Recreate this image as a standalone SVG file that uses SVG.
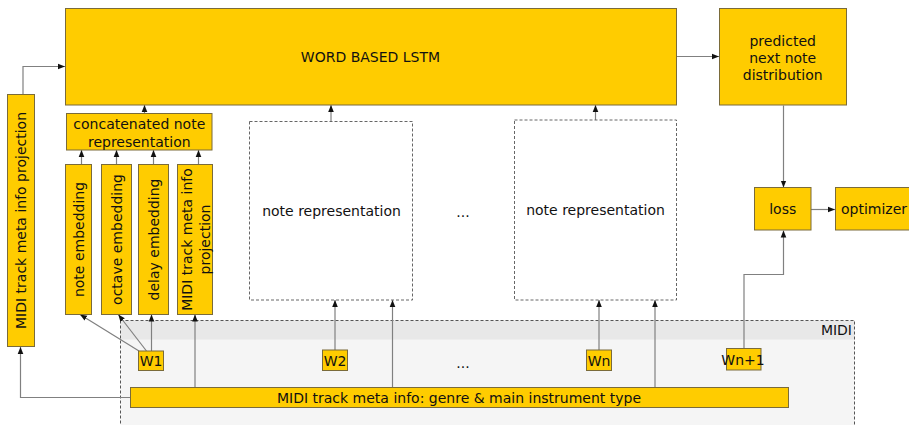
<svg xmlns="http://www.w3.org/2000/svg" width="909" height="425" viewBox="0 0 909 425">
<defs>
<style>
.box{fill:#ffcc00;stroke:#7a6b3a;stroke-width:1}
.dash{fill:#ffffff;stroke:#666666;stroke-width:1;stroke-dasharray:3,2}
.t{font-family:"DejaVu Sans",sans-serif;font-size:14px;fill:#111111;text-anchor:middle;dominant-baseline:central}
.ln{fill:none;stroke:#808080;stroke-width:1.2}
</style>
<marker id="ar" viewBox="0 0 8 8" refX="8" refY="4" markerWidth="7" markerHeight="7" markerUnits="userSpaceOnUse" orient="auto">
<path d="M0,0.8 L8,4 L0,7.2 Z" fill="#111111"/>
</marker>
</defs>
<rect width="909" height="425" fill="#ffffff"/>

<g id="midi-container">
<rect x="120.5" y="320.5" width="734" height="110" fill="#f5f5f5" stroke="none"/>
<rect x="120.5" y="320.5" width="734" height="19" fill="#e8e8e8" stroke="none"/>
<rect x="120.5" y="320.5" width="734" height="110" fill="none" stroke="#555555" stroke-dasharray="3,2"/>
<text class="t" x="852" y="330" style="text-anchor:end">MIDI</text>
</g>

<g id="connectors">
<polyline class="ln" points="23,94 23,66.5 65,66.5" marker-end="url(#ar)"/>
<line class="ln" x1="144.5" y1="113.5" x2="144.5" y2="105" marker-end="url(#ar)"/>
<line class="ln" x1="81.5" y1="164" x2="81.5" y2="150" marker-end="url(#ar)"/>
<line class="ln" x1="116.5" y1="164" x2="116.5" y2="150" marker-end="url(#ar)"/>
<line class="ln" x1="153.5" y1="164" x2="153.5" y2="150" marker-end="url(#ar)"/>
<line class="ln" x1="198.5" y1="164" x2="198.5" y2="150" marker-end="url(#ar)"/>
<line class="ln" x1="139" y1="351" x2="80" y2="314.5" marker-end="url(#ar)"/>
<line class="ln" x1="146.5" y1="351" x2="118.3" y2="314.5" marker-end="url(#ar)"/>
<line class="ln" x1="151.5" y1="351" x2="151.5" y2="314.5" marker-end="url(#ar)"/>
<line class="ln" x1="195" y1="387.5" x2="195" y2="314.5" marker-end="url(#ar)"/>
<polyline class="ln" points="130,397.5 20.5,397.5 20.5,347" marker-end="url(#ar)"/>
<line class="ln" x1="335" y1="350" x2="335" y2="300" marker-end="url(#ar)"/>
<line class="ln" x1="392.5" y1="387.5" x2="392.5" y2="300" marker-end="url(#ar)"/>
<line class="ln" x1="599" y1="350" x2="599" y2="300" marker-end="url(#ar)"/>
<line class="ln" x1="655" y1="387.5" x2="655" y2="300" marker-end="url(#ar)"/>
<polyline class="ln" points="744,348.5 744,274.5 783.5,274.5 783.5,230.5" marker-end="url(#ar)"/>
<line class="ln" x1="331" y1="121.5" x2="331" y2="105" marker-end="url(#ar)"/>
<line class="ln" x1="595.5" y1="120" x2="595.5" y2="105" marker-end="url(#ar)"/>
<line class="ln" x1="677" y1="56.5" x2="719" y2="56.5" marker-end="url(#ar)"/>
<line class="ln" x1="783.5" y1="105.5" x2="783.5" y2="187.5" marker-end="url(#ar)"/>
<line class="ln" x1="811" y1="209.5" x2="835" y2="209.5" marker-end="url(#ar)"/>
</g>

<g id="lstm">
<rect class="box" x="65.5" y="8.5" width="611" height="96.5"/>
<text class="t" x="370.5" y="57">WORD BASED LSTM</text>
</g>

<g id="predicted">
<rect class="box" x="719.5" y="8.5" width="127" height="96.5"/>
<text class="t" x="782.7" y="40.5">predicted</text>
<text class="t" x="782.7" y="58">next note</text>
<text class="t" x="782.7" y="75">distribution</text>
</g>

<g id="loss">
<rect class="box" x="754.5" y="187.5" width="56.5" height="42.5"/>
<text class="t" x="782.7" y="209">loss</text>
</g>

<g id="optimizer">
<rect class="box" x="835.5" y="187.5" width="80" height="42.5"/>
<text class="t" x="841" y="209" style="text-anchor:start">optimizer</text>
</g>

<g id="meta-projection-left">
<rect class="box" x="7.5" y="94.5" width="27" height="252"/>
<text class="t" transform="translate(21,220.5) rotate(-90)" x="0" y="0">MIDI track meta info projection</text>
</g>

<g id="concatenated">
<rect class="box" x="66.5" y="113.5" width="145.5" height="36.5"/>
<text class="t" x="139.3" y="124">concatenated note</text>
<text class="t" x="139.3" y="141.5">representation</text>
</g>

<g id="note-embedding">
<rect class="box" x="65.5" y="164.5" width="26" height="150"/>
<text class="t" transform="translate(79,239.5) rotate(-90)" x="0" y="0">note embedding</text>
</g>

<g id="octave-embedding">
<rect class="box" x="101.5" y="164.5" width="30" height="150"/>
<text class="t" transform="translate(117,239.5) rotate(-90)" x="0" y="0">octave embedding</text>
</g>

<g id="delay-embedding">
<rect class="box" x="138.5" y="164.5" width="30" height="150"/>
<text class="t" transform="translate(153.5,239.5) rotate(-90)" x="0" y="0">delay embedding</text>
</g>

<g id="meta-projection">
<rect class="box" x="177.5" y="164.5" width="35" height="150"/>
<text class="t" transform="translate(186.5,239.5) rotate(-90)" x="0" y="0">MIDI track meta info</text>
<text class="t" transform="translate(204.5,239.5) rotate(-90)" x="0" y="0">projection</text>
</g>

<g id="note-rep-1">
<rect class="dash" x="249.5" y="121.5" width="163" height="178.5"/>
<text class="t" x="331.5" y="211">note representation</text>
</g>

<g id="ellipsis-top">
<text class="t" x="463" y="212">...</text>
</g>

<g id="note-rep-2">
<rect class="dash" x="514.5" y="120" width="162" height="180"/>
<text class="t" x="595.5" y="210">note representation</text>
</g>

<g id="w1">
<rect class="box" x="138.5" y="351" width="25" height="19.5"/>
<text class="t" x="151" y="361">W1</text>
</g>

<g id="w2">
<rect class="box" x="322.5" y="350" width="25" height="20.5"/>
<text class="t" x="335" y="360.5">W2</text>
</g>

<g id="ellipsis-bottom">
<text class="t" x="463" y="363">...</text>
</g>

<g id="wn">
<rect class="box" x="586.5" y="350" width="25" height="20.5"/>
<text class="t" x="599" y="360.5">Wn</text>
</g>

<g id="wn1">
<rect class="box" x="726.5" y="348.5" width="34.5" height="21.5"/>
<text class="t" x="743" y="359.5">Wn+1</text>
</g>

<g id="meta-info">
<rect class="box" x="130.5" y="387.5" width="658" height="20"/>
<text class="t" x="459" y="397.5">MIDI track meta info: genre &amp; main instrument type</text>
</g>
</svg>
